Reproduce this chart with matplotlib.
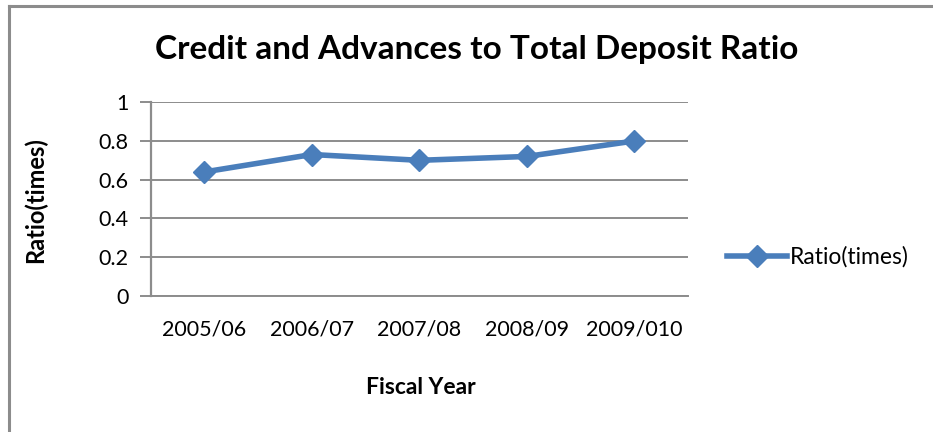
import matplotlib
matplotlib.use("Agg")
import matplotlib.pyplot as plt
from matplotlib.lines import Line2D

# fiscal years and credit/deposit ratio
years = ["2005/06", "2006/07", "2007/08", "2008/09", "2009/010"]
ratio = [0.64, 0.73, 0.70, 0.72, 0.80]
yticks = [0, 0.2, 0.4, 0.6, 0.8, 1]

plt.rcParams['font.family'] = ['Lato', 'DejaVu Sans']

W, H = 933, 432
fig = plt.figure(figsize=(W / 100, H / 100), dpi=100)

# chart area border (top and left edges visible)
fig.add_artist(Line2D([9 / W, 9 / W], [0, 1 - 6 / H], transform=fig.transFigure,
                      color='#8c8c8c', lw=2.2))
fig.add_artist(Line2D([9 / W, 1], [1 - 6 / H, 1 - 6 / H], transform=fig.transFigure,
                      color='#8c8c8c', lw=2.2))

left, right, top, bottom = 150.7, 688, 102.3, 295.7
ax = fig.add_axes([left / W, 1 - bottom / H, (right - left) / W, (bottom - top) / H])

x = list(range(len(years)))
line, = ax.plot(x, ratio, color='#4a7ebb', lw=4, marker='D', markersize=11,
                label='Ratio(times)', zorder=3)

ax.set_xlim(-0.5, len(years) - 0.5)
ax.set_ylim(0, 1)
ax.set_yticks(yticks)
ax.set_yticklabels(['0', '0.2', '0.4', '0.6', '0.8', '1'])
ax.set_xticks(x)
ax.set_xticklabels(years)
ax.grid(axis='y', color='#8c8c8c', lw=1.4)
ax.set_axisbelow(True)

for s in ['top', 'right']:
    ax.spines[s].set_visible(False)
ax.spines['left'].set_color('#8c8c8c')
ax.spines['left'].set_linewidth(1.6)
ax.spines['bottom'].set_color('#8c8c8c')
ax.spines['bottom'].set_linewidth(1.4)
ax.tick_params(axis='y', length=8, width=1.4, color='#8c8c8c', labelsize=15.5, pad=8)
ax.tick_params(axis='x', length=0, labelsize=15.5, pad=17)

fig.text(477 / W, 1 - 50 / H, 'Credit and Advances to Total Deposit Ratio',
         ha='center', va='center', fontsize=24, fontweight='bold')
fig.text(35 / W, 1 - 200 / H, 'Ratio(times)', rotation=90, ha='center', va='center',
         fontsize=17, fontweight='bold')
fig.text(421 / W, 1 - 388 / H, 'Fiscal Year', ha='center', va='center',
         fontsize=16.5, fontweight='bold')

fig.legend(handles=[line], loc='center left', bbox_to_anchor=(727 / W, 1 - 257 / H),
           frameon=False, fontsize=16.5, handlelength=2.6, handletextpad=0.15,
           borderaxespad=0, borderpad=0)

fig.savefig('out.png', dpi=100)
